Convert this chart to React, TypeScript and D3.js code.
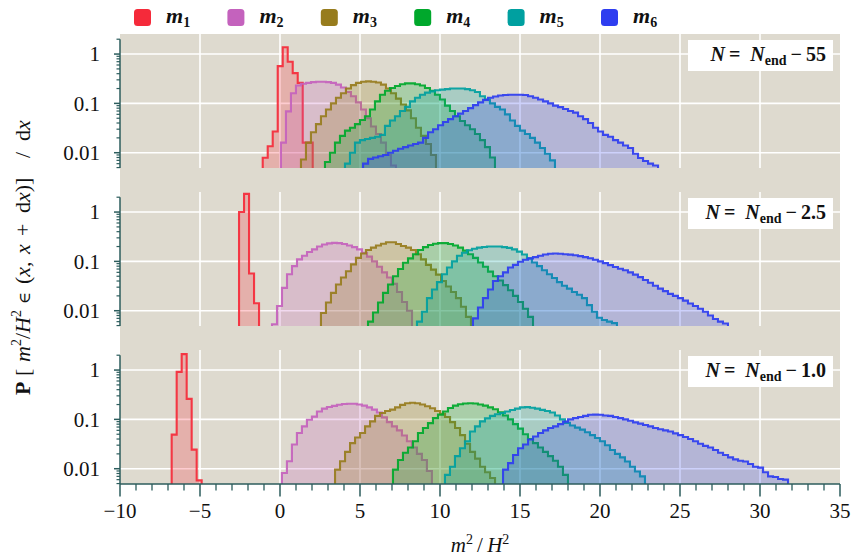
import React from 'react';
import * as d3 from 'd3';

// ---------------- data ----------------
const seriesSubscripts = ['1', '2', '3', '4', '5', '6'];
const seriesColors = ['#f52a3a', '#c462bd', '#977c1d', '#00a82c', '#00a0a0', '#2e3df0'];
const panelOffsets = ['55', '2.5', '1.0'];
const xTickValues = [-10, -5, 0, 5, 10, 15, 20, 25, 30, 35];
const xTickLabels = ['\u221210', '\u22125', '0', '5', '10', '15', '20', '25', '30', '35'];
const yTickValues = [1, 0.1, 0.01];
const yTickLabels = ['1', '0.1', '0.01'];
const binWidth = 0.3125;

// Panel 1: N = N_end - 55
const p1Starts = [-1.08, 0.06, 1.31, 2.81, 4.06, 5.19];
const p1m1 = [0.0079, 0.0135, 0.027, 0.57, 1.37, 0.7, 0.41, 0.26, 0.016, 0.016];
const p1m2 = [0.016, 0.069, 0.16, 0.23, 0.25, 0.26, 0.27, 0.275, 0.275, 0.27, 0.26, 0.24, 0.21, 0.17, 0.14, 0.105, 0.075, 0.05, 0.034, 0.024, 0.016, 0.009, 0.0055];
const p1m3 = [0.0073, 0.016, 0.026, 0.038, 0.055, 0.075, 0.1, 0.13, 0.16, 0.2, 0.235, 0.26, 0.275, 0.28, 0.275, 0.265, 0.24, 0.2, 0.16, 0.125, 0.095, 0.072, 0.05, 0.032, 0.022, 0.015, 0.009];
const p1m4 = [0.0065, 0.01, 0.016, 0.022, 0.028, 0.032, 0.038, 0.046, 0.055, 0.075, 0.11, 0.15, 0.18, 0.205, 0.225, 0.245, 0.255, 0.255, 0.245, 0.23, 0.205, 0.18, 0.15, 0.12, 0.09, 0.07, 0.055, 0.044, 0.036, 0.03, 0.024, 0.018, 0.013, 0.008];
const p1m5 = [0.006, 0.01, 0.016, 0.018, 0.019, 0.02, 0.021, 0.023, 0.035, 0.045, 0.055, 0.07, 0.085, 0.11, 0.13, 0.15, 0.165, 0.175, 0.185, 0.19, 0.195, 0.2, 0.2, 0.2, 0.195, 0.185, 0.17, 0.14, 0.12, 0.1, 0.085, 0.075, 0.06, 0.045, 0.035, 0.028, 0.024, 0.02, 0.016, 0.0125, 0.0095, 0.007];
const p1m6 = [0.006, 0.0075, 0.008, 0.0085, 0.009, 0.01, 0.011, 0.012, 0.013, 0.014, 0.015, 0.016, 0.02, 0.026, 0.03, 0.036, 0.042, 0.048, 0.055, 0.062, 0.07, 0.08, 0.092, 0.105, 0.118, 0.13, 0.138, 0.145, 0.148, 0.15, 0.15, 0.15, 0.148, 0.14, 0.13, 0.12, 0.11, 0.1, 0.09, 0.084, 0.077, 0.07, 0.065, 0.055, 0.048, 0.04, 0.032, 0.027, 0.023, 0.021, 0.018, 0.016, 0.014, 0.0125, 0.0095, 0.0078, 0.0068, 0.006, 0.0055];

// Panel 2: N = N_end - 2.5
const p2Starts = [-2.56, -0.5, 2.56, 5.5, 8.56, 12.06];
const p2m1 = [1.0, 2.34, 0.057, 0.0142];
const p2m2 = [0.0053, 0.0125, 0.029, 0.055, 0.08, 0.11, 0.13, 0.155, 0.175, 0.2, 0.22, 0.232, 0.237, 0.235, 0.225, 0.21, 0.195, 0.175, 0.15, 0.125, 0.1, 0.078, 0.06, 0.047, 0.035, 0.024, 0.015, 0.01];
const p2m3 = [0.009, 0.0147, 0.023, 0.034, 0.047, 0.063, 0.087, 0.118, 0.145, 0.17, 0.19, 0.21, 0.228, 0.245, 0.245, 0.225, 0.205, 0.19, 0.17, 0.14, 0.11, 0.085, 0.068, 0.054, 0.04, 0.031, 0.024, 0.018, 0.012, 0.0075];
const p2m4 = [0.006, 0.0092, 0.0147, 0.023, 0.034, 0.05, 0.07, 0.094, 0.115, 0.14, 0.17, 0.195, 0.215, 0.228, 0.235, 0.235, 0.225, 0.21, 0.19, 0.165, 0.14, 0.118, 0.095, 0.078, 0.062, 0.05, 0.041, 0.033, 0.026, 0.02, 0.015, 0.011, 0.0075];
const p2m5 = [0.006, 0.0095, 0.018, 0.027, 0.038, 0.055, 0.075, 0.1, 0.13, 0.15, 0.168, 0.18, 0.19, 0.196, 0.2, 0.2, 0.2, 0.195, 0.188, 0.175, 0.158, 0.138, 0.115, 0.095, 0.08, 0.066, 0.055, 0.046, 0.038, 0.032, 0.028, 0.024, 0.021, 0.018, 0.013, 0.0095, 0.0072, 0.0065, 0.006, 0.0056];
const p2m6 = [0.007, 0.0116, 0.018, 0.027, 0.04, 0.05, 0.06, 0.075, 0.085, 0.098, 0.108, 0.115, 0.122, 0.13, 0.138, 0.143, 0.144, 0.143, 0.14, 0.137, 0.133, 0.128, 0.122, 0.116, 0.108, 0.1, 0.092, 0.084, 0.077, 0.071, 0.066, 0.06, 0.054, 0.048, 0.042, 0.037, 0.032, 0.028, 0.025, 0.022, 0.02, 0.018, 0.016, 0.014, 0.0125, 0.011, 0.0095, 0.008, 0.0068, 0.006, 0.0055];

// Panel 3: N = N_end - 1.0
const p3Starts = [-6.77, 0.12, 3.44, 7.06, 10.31, 13.94];
const p3m1 = [0.049, 0.92, 2.1, 0.26, 0.0244, 0.0058];
const p3m2 = [0.0082, 0.0142, 0.031, 0.053, 0.072, 0.098, 0.114, 0.145, 0.165, 0.178, 0.188, 0.198, 0.205, 0.208, 0.207, 0.2, 0.19, 0.175, 0.158, 0.138, 0.11, 0.088, 0.072, 0.06, 0.047, 0.036, 0.027, 0.02, 0.015, 0.009];
const p3m3 = [0.0096, 0.0142, 0.022, 0.033, 0.043, 0.053, 0.072, 0.091, 0.118, 0.135, 0.148, 0.158, 0.175, 0.197, 0.212, 0.218, 0.212, 0.2, 0.185, 0.168, 0.148, 0.13, 0.112, 0.088, 0.067, 0.048, 0.032, 0.022, 0.016, 0.011, 0.0085, 0.0065];
const p3m4 = [0.0096, 0.015, 0.021, 0.027, 0.036, 0.053, 0.067, 0.084, 0.106, 0.125, 0.145, 0.17, 0.19, 0.203, 0.21, 0.213, 0.21, 0.2, 0.19, 0.175, 0.16, 0.14, 0.12, 0.1, 0.08, 0.065, 0.05, 0.04, 0.033, 0.027, 0.022, 0.018, 0.0145, 0.011, 0.0075];
const p3m5 = [0.0075, 0.011, 0.018, 0.026, 0.036, 0.057, 0.072, 0.091, 0.105, 0.118, 0.127, 0.135, 0.145, 0.155, 0.165, 0.175, 0.177, 0.172, 0.165, 0.156, 0.148, 0.138, 0.12, 0.1, 0.085, 0.075, 0.068, 0.062, 0.055, 0.048, 0.042, 0.036, 0.03, 0.024, 0.02, 0.017, 0.014, 0.011, 0.0088, 0.007];
const p3m6 = [0.0096, 0.013, 0.019, 0.026, 0.031, 0.039, 0.045, 0.053, 0.06, 0.067, 0.072, 0.08, 0.09, 0.1, 0.106, 0.112, 0.118, 0.124, 0.125, 0.124, 0.12, 0.118, 0.112, 0.106, 0.1, 0.094, 0.087, 0.082, 0.077, 0.072, 0.067, 0.063, 0.06, 0.057, 0.052, 0.048, 0.044, 0.04, 0.036, 0.032, 0.029, 0.027, 0.024, 0.021, 0.019, 0.017, 0.0155, 0.0145, 0.014, 0.0125, 0.011, 0.0105, 0.0085, 0.007, 0.0068, 0.0062, 0.006];

const panelStarts = [p1Starts, p2Starts, p3Starts];
const panelValues = [
  [p1m1, p1m2, p1m3, p1m4, p1m5, p1m6],
  [p2m1, p2m2, p2m3, p2m4, p2m5, p2m6],
  [p3m1, p3m2, p3m3, p3m4, p3m5, p3m6],
];

// ---------------- layout ----------------
const W = 851;
const H = 556;
const LEFT = 120;
const RIGHT = 840;
const PANEL_H = 134;
const panelBottoms = [168, 326, 484];
const BG = '#dedacf';
const AXIS = '#2c5d5d';
const FONT = "'Liberation Serif', 'Times New Roman', serif";

const x = d3.scaleLinear().domain([-10, 35]).range([LEFT, RIGHT]);
const makeY = (bottom: number) =>
  d3.scaleLog().domain([0.0049, 2.55]).range([bottom, bottom - PANEL_H]);

const minorVals: number[] = [];
[-3, -2, -1, 0].forEach((e) => {
  for (let k = 2; k <= 9; k++) {
    const v = k * Math.pow(10, e);
    if (v >= 0.0049 && v <= 2.0001) minorVals.push(v);
  }
});
const xMinor = d3.range(-10, 36, 1).filter((v) => v % 5 !== 0);

function histPath(start: number, vals: number[], y: any, bottom: number, close: boolean) {
  const xs = (i: number) => x(start + i * binWidth);
  let d = `M${xs(0)},${bottom}`;
  vals.forEach((v, i) => {
    const yy = Math.min(bottom, y(v));
    d += `L${xs(i)},${yy}L${xs(i + 1)},${yy}`;
  });
  d += `L${xs(vals.length)},${bottom}`;
  if (close) d += 'Z';
  return d;
}

export default function App() {
  return (
    <svg
      width={W}
      height={H}
      viewBox={`0 0 ${W} ${H}`}
      style={{ position: 'absolute', left: 0, top: 0, display: 'block', background: '#fff' }}
      fontFamily={FONT}
    >
      <defs>
        {panelBottoms.map((b, p) => (
          <clipPath id={`clip${p}`} key={p}>
            <rect x={LEFT} y={b - PANEL_H} width={RIGHT - LEFT} height={PANEL_H} />
          </clipPath>
        ))}
      </defs>

      {/* background */}
      <rect x={LEFT} y={panelBottoms[0] - PANEL_H} width={RIGHT - LEFT} height={panelBottoms[2] - (panelBottoms[0] - PANEL_H)} fill={BG} />

      {/* legend */}
      {seriesSubscripts.map((s, i) => {
        const lx = 134 + i * 93.4;
        return (
          <g key={s}>
            <rect x={lx} y={9} width={17} height={17} rx={3.5} fill={seriesColors[i]} />
            <text x={lx + 32} y={23} fontSize={22} fontWeight="bold" fill="#111">
              <tspan fontStyle="italic">m</tspan>
              <tspan fontSize={14} dy={4}>{s}</tspan>
            </text>
          </g>
        );
      })}

      {panelBottoms.map((bottom, p) => {
        const y = makeY(bottom);
        const top = bottom - PANEL_H;
        return (
          <g key={p}>
            {/* grid */}
            {xTickValues.slice(1, -1).map((v) => (
              <line key={'gx' + v} x1={x(v)} x2={x(v)} y1={top} y2={bottom} stroke="#fff" strokeWidth={1.6} />
            ))}
            {yTickValues.map((v) => (
              <line key={'gy' + v} x1={LEFT} x2={RIGHT} y1={y(v)} y2={y(v)} stroke="#fff" strokeWidth={1.6} />
            ))}
            {/* histograms */}
            <g clipPath={`url(#clip${p})`}>
              {panelValues[p].map((vals, s) => (
                <g key={s}>
                  <path d={histPath(panelStarts[p][s], vals, y, bottom, true)} fill={seriesColors[s]} fillOpacity={0.24} stroke="none" />
                  <path d={histPath(panelStarts[p][s], vals, y, bottom, false)} fill="none" stroke={seriesColors[s]} strokeWidth={2.1} strokeOpacity={0.92} strokeLinejoin="miter" />
                </g>
              ))}
            </g>
            {/* y axis */}
            <line x1={LEFT} x2={LEFT} y1={y(2)} y2={bottom} stroke={AXIS} strokeWidth={1.5} />
            {minorVals.map((v) => (
              <line key={'my' + v} x1={LEFT - 3.5} x2={LEFT} y1={y(v)} y2={y(v)} stroke={AXIS} strokeWidth={1.2} />
            ))}
            {yTickValues.map((v, i) => (
              <g key={'ty' + v}>
                <line x1={LEFT - 6} x2={LEFT} y1={y(v)} y2={y(v)} stroke={AXIS} strokeWidth={1.5} />
                <text x={100} y={y(v)} dy="0.35em" textAnchor="end" fontSize={21} fill="#111">
                  {yTickLabels[i]}
                </text>
              </g>
            ))}
            {/* annotation */}
            <rect x={688} y={top + 6} width={145} height={31} fill="#fff" />
            <text x={826} y={top + 27} textAnchor="end" fontSize={20} fontWeight="bold" fill="#111">
              <tspan fontStyle="italic">N</tspan>
              <tspan>{'\u2009=\u00a0\u00a0'}</tspan>
              <tspan fontStyle="italic">N</tspan>
              <tspan fontSize={14} dy={4}>end</tspan>
              <tspan dy={-4}>{'\u2009\u2212\u2009' + panelOffsets[p]}</tspan>
            </text>
          </g>
        );
      })}

      {/* x axis */}
      <line x1={LEFT} x2={RIGHT} y1={panelBottoms[2]} y2={panelBottoms[2]} stroke={AXIS} strokeWidth={1.5} />
      {xMinor.map((v) => (
        <line key={'mx' + v} x1={x(v)} x2={x(v)} y1={panelBottoms[2]} y2={panelBottoms[2] + 6.5} stroke={AXIS} strokeWidth={1.3} />
      ))}
      {xTickValues.map((v, i) => (
        <g key={'tx' + v}>
          <line x1={x(v)} x2={x(v)} y1={panelBottoms[2]} y2={panelBottoms[2] + 12.5} stroke={AXIS} strokeWidth={1.5} />
          <text x={x(v)} y={518} textAnchor="middle" fontSize={21} fill="#111">
            {xTickLabels[i]}
          </text>
        </g>
      ))}

      {/* x label */}
      <text x={(LEFT + RIGHT) / 2} y={552} textAnchor="middle" fontSize={21} fill="#111">
        <tspan fontStyle="italic">m</tspan>
        <tspan fontSize={14} dy={-8}>2</tspan>
        <tspan dy={8}>{'\u2009/\u2009'}</tspan>
        <tspan fontStyle="italic">H</tspan>
        <tspan fontSize={14} dy={-8}>2</tspan>
      </text>

      {/* y label */}
      <text transform="translate(30,0) rotate(-90)" fontSize={22} fill="#111">
        <tspan x={-395} fontWeight="bold">P</tspan>
        <tspan x={-376}>[</tspan>
        <tspan x={-362} fontStyle="italic">m</tspan>
        <tspan fontSize={14} dy={-9}>2</tspan>
        <tspan dy={9}>/</tspan>
        <tspan fontStyle="italic">H</tspan>
        <tspan fontSize={14} dy={-9}>2</tspan>
        <tspan x={-304} dy={9} fontSize={16} fontFamily="'DejaVu Serif', serif">{'\u2208'}</tspan>
        <tspan x={-284}>(</tspan>
        <tspan fontStyle="italic">x</tspan>
        <tspan>,</tspan>
        <tspan x={-254} fontStyle="italic">x</tspan>
        <tspan x={-236}>+</tspan>
        <tspan x={-213}>d</tspan>
        <tspan fontStyle="italic">x</tspan>
        <tspan>)]</tspan>
        <tspan x={-158}>/</tspan>
        <tspan x={-141}>d</tspan>
        <tspan fontStyle="italic">x</tspan>
      </text>
    </svg>
  );
}
